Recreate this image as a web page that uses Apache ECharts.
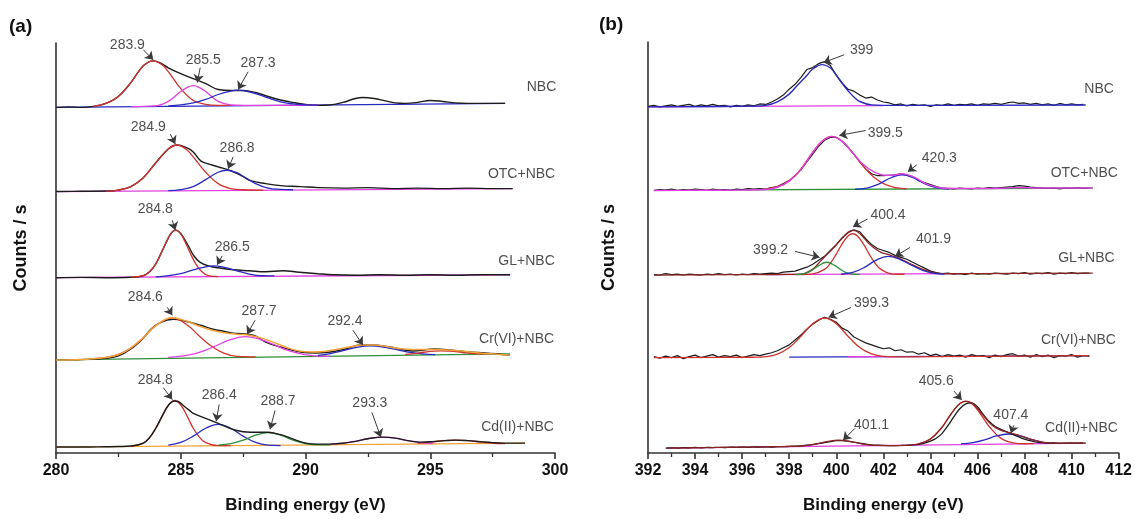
<!DOCTYPE html>
<html><head><meta charset="utf-8">
<script src="https://cdn.jsdelivr.net/npm/echarts@6/dist/echarts.min.js"></script>
<style>html,body{margin:0;padding:0;background:#fff}#c{width:1135px;height:519px}</style>
</head><body><div id="c"></div>
<script>
// ---------------- Panel (a): C 1s, binding energy (eV) vs intensity above each spectrum's own baseline
const A_STACK = [349, 264, 177, 94, 6]; // NBC, OTC+NBC, GL+NBC, Cr(VI)+NBC, Cd(II)+NBC
const a_NBC_exp = [[280,0],[280.5,0.5],[281,0],[281.5,1],[282,4],[282.5,11],[283,25],[283.5,42],[283.9,47],[284.25,44],[284.5,40],[285,34],[285.5,29],[286,24],[286.5,18],[287,17],[287.5,17],[288,15],[288.5,11],[289,7.5],[289.5,5],[290,3],[290.5,2],[291,2.5],[291.5,5],[292,9],[292.3,10],[292.75,9],[293.2,6.5],[293.6,4.5],[294,4],[294.5,5],[295,7],[295.5,6],[296,4.5],[296.5,4],[297,4],[297.5,4],[298,4]];
const a_NBC_c1 = [[281.5,1],[282,4],[282.5,11],[283,25],[283.5,42],[283.9,47],[284.25,43],[284.5,36],[285,19],[285.5,7],[286,3],[286.5,2],[287,2]];
const a_NBC_c2 = [[283,0.7],[284,1.5],[284.5,6],[285,16],[285.25,20],[285.5,22],[285.75,20],[286,16],[286.5,6],[287,2.5],[287.5,2],[290.5,2.3]];
const a_NBC_c3 = [[284.5,1.5],[285,2.5],[285.5,4.5],[286,8],[286.5,13],[287,16.5],[287.3,17.5],[287.5,17],[288,14],[288.5,9.5],[289,5.5],[289.5,3.5],[290,2.6],[290.5,2.3]];
const a_NBC_base = [[280,0],[298,4]];

const a_OTC_exp = [[280,0],[281,0.3],[282,0.5],[282.5,1.5],[283,5],[283.5,14],[284,29],[284.5,43],[284.85,47],[285.25,44],[285.5,40],[285.8,31],[286.1,28],[286.5,25],[287.1,20],[287.5,15],[287.8,11],[288.4,8],[289,6],[289.8,5],[290.5,4],[291.5,3.5],[292.5,4],[293.5,3],[294.5,3.5],[295.5,3],[296.5,3.5],[297.5,3],[298.3,3]];
const a_OTC_c1 = [[282,0.5],[282.5,1.5],[283,5],[283.5,14],[284,29],[284.5,43],[284.85,47],[285.25,42],[285.5,35],[286,19.5],[286.5,8],[287,3],[287.5,1.8],[288.3,1.5]];
const a_OTC_c2 = [[284.5,1],[285,2],[285.5,5],[286,12],[286.5,19.5],[286.85,21.5],[287.25,19],[287.5,15.5],[288,8],[288.5,3.5],[289,2.2],[289.5,1.8]];
const a_OTC_base = [[280,0],[298.3,3]];

const a_GL_exp = [[280,0],[281,0.3],[282,0],[283,0.5],[283.5,2],[283.75,6],[284,14],[284.25,27],[284.5,40],[284.65,46],[284.8,48],[284.95,46],[285.1,41],[285.35,30],[285.5,23],[285.75,16],[286.1,12],[286.5,10],[287.1,8],[287.75,7],[288.4,6],[289.1,7],[289.75,5.5],[290.5,4],[291.1,3],[292,2.5],[293,3],[294,2.5],[295,3],[296,2.5],[297,3],[298.2,3]];
const a_GL_c1 = [[283,0.5],[283.5,2],[283.75,6],[284,14],[284.25,26.5],[284.5,40],[284.65,46],[284.8,48],[284.95,46],[285.1,40],[285.35,26.5],[285.6,14],[285.85,6],[286.1,2],[286.5,1]];
const a_GL_c2 = [[284,0.8],[284.5,2],[285,4.2],[285.5,8],[286,11],[286.3,12],[286.75,10.5],[287.25,7],[287.75,3.7],[288.25,2],[288.75,1.8]];
const a_GL_base = [[280,0],[298.2,3]];

const a_Cr_exp = [[280,0],[280.5,0],[281,0.3],[281.5,0.8],[282,1.5],[282.5,4],[283,11],[283.5,22],[283.8,31],[284.2,38],[284.7,41],[285.2,39],[285.8,35],[286.3,31],[286.7,29],[287.1,27],[287.9,25],[288.4,18],[289,13],[289.8,8],[290.4,7],[291,8],[291.6,11],[292.2,15],[292.6,15],[293.4,13],[294.3,9],[295.2,11],[295.8,10],[296.5,8],[297.2,7],[298.2,5]];
const a_Cr_fit = [[280,0],[281,0.5],[281.5,1.2],[282,2.5],[282.5,5.5],[283,12],[283.5,22.5],[284,34.5],[284.65,42.5],[285.25,39],[285.75,34],[286.25,30],[286.75,27.5],[287.25,26],[287.75,25],[288.25,22],[288.75,17.5],[289.25,12.5],[289.75,9],[290.25,8],[290.75,8.5],[291.25,10.5],[291.75,13],[292.25,15],[292.75,15],[293.25,13.5],[293.75,11.5],[294.25,10.5],[294.75,10.5],[295.25,10.5],[295.75,10],[296.25,9],[296.75,7.5],[297.25,6.5],[297.75,5.5],[298.2,5]];
const a_Cr_c1 = [[281.5,1.2],[282,2.5],[282.5,5.5],[283,12],[283.5,22.5],[284,34.5],[284.65,42.5],[285.25,35.5],[285.75,24],[286.25,13.5],[286.75,6.5],[287.25,3.5],[288,3]];
const a_Cr_c2 = [[284.5,2.5],[285,3.8],[285.5,5.8],[286,9.8],[286.5,15.3],[287,20.6],[287.6,23.5],[288.2,20.6],[288.7,15.8],[289.2,10.3],[289.7,6.9],[290.2,4.6],[290.7,3.8],[291,3.6]];
const a_Cr_c3 = [[290.5,4.6],[291,6.4],[291.5,9.3],[292,12.4],[292.6,14.2],[293.2,12.7],[293.7,10.1],[294.2,7.5],[294.7,6],[295.2,5.3]];
const a_Cr_c4 = [[294,5.5],[294.5,6.9],[295,8.7],[295.4,9.1],[295.8,8.8],[296.3,7.5],[296.8,6.4],[297.3,6]];
const a_Cr_base = [[280,0],[298.2,6]];

const a_Cd_exp = [[280,0],[281,0],[282,0.3],[282.5,0.5],[283,1],[283.5,4],[283.75,9.5],[284,19],[284.25,31],[284.5,42],[284.75,46.5],[284.9,46],[285.1,42],[285.35,37],[285.5,34],[286,29],[286.5,24],[287.2,17],[287.8,15],[288.5,15],[289,12.5],[289.4,9],[290,4],[290.5,3],[291,3],[291.5,3.8],[292,5.8],[292.5,8.4],[293.1,10],[293.6,9],[294.1,6.5],[294.6,5],[295.1,5.5],[295.6,6.5],[296,7],[296.5,6.5],[297,5.5],[297.5,4.5],[298,4],[298.8,4]];
const a_Cd_c1 = [[283,0.8],[283.5,4],[283.75,9.5],[284,19],[284.25,31],[284.5,42],[284.75,47],[285,42.5],[285.25,31.5],[285.5,19],[285.75,10],[286,4.5],[286.5,1.5],[287,1.5]];
const a_Cd_c2 = [[284.5,2],[285,4.8],[285.5,11],[286,19],[286.5,23],[287,19],[287.5,11],[288,4.8],[288.5,2],[289,1.5]];
const a_Cd_c3 = [[286.5,2],[287,3.4],[287.5,6.9],[288,12],[288.5,14.6],[289,12.1],[289.5,7],[290,3.6],[290.5,2.3],[291,2.2]];
const a_Cd_c4 = [[291,3.1],[291.5,3.9],[292,5.8],[292.5,8.4],[293.1,10.1],[293.6,9],[294.1,6.4],[294.6,4.5],[295.1,3.6]];
const a_Cd_c5 = [[294.5,3.8],[295,4.9],[295.5,6.4],[296,7],[296.5,6.5],[297,5],[297.5,3.8],[298,3.5]];
const a_Cd_base = [[280,0],[298.8,4]];

// ---------------- Panel (b): N 1s
const B_STACK = [352, 267, 181, 97, 5];
const B_STEP = 0.25;
const b_NBC_start = 392.0;
const b_NBC_exp = [0.5,1.5,0,1,2,0.5,1.5,2.5,0.5,2, 1,2.5,1,1.5,0,1.5,0.5,2,1,3, 2.5,5,8,12,18,23,30,38,40,44, 46,42,32,24,18,16,12,9,10,7, 5,4,2,3,1,2.5,1.5,2,0.5,2, 1.5,3,1.5,2.5,2,3,1.5,3,2.5,3.5, 2.5,4,5,3.5,4,2.5,3.5,2,3,1.5, 3.5,2,3,2,2.5];
const b_NBC_c1 = [[392,0],[396.5,0.8],[397,1.5],[397.5,5],[398,13],[398.33,21.5],[398.75,32],[399,38.5],[399.4,43],[399.75,39.5],[400,32.5],[400.33,21.5],[400.5,16.5],[400.75,10],[401,5.5],[401.5,2],[402,1.5],[410.6,2]];
const b_NBC_base = [[392,0],[402,1.2]];

const b_OTC_start = 392.25;
const b_OTC_exp = [0,1,0.5,1.5,0,1,0.5,1.5,1,0, 1.5,0.5,1,0,1.5,1,2,1.5,2,1.5, 3,4,7,10,15,21,29,37,45,51, 54,54,50,44,37,29,22,17,15,15, 15.5,16,17,16,14,10,8,6,4,2.5, 2,1.5,2.5,2,1.5,2.5,2,3,2.5,3, 3.5,4,5,4.5,3.5,3,2.5,2,2.5,1.5, 2.5,2,3,2,2.5];
const b_OTC_c1 = [[397,1.5],[397.5,3.8],[398,10],[398.5,22],[399,38.9],[399.4,50.4],[399.8,55],[400.2,51],[400.6,41],[401.1,26],[401.6,13.4],[402.1,5.9],[402.6,2.6],[403,1.6]];
const b_OTC_c2 = [[400.8,1.3],[401.3,2.5],[401.8,6.5],[402.3,12.7],[402.8,16],[403.3,12.7],[403.8,6.5],[404.3,2.6],[404.8,1.5]];
const b_OTC_fit = [[392.25,0],[394,0.2],[396,0.4],[397,1],[397.5,3.3],[398,9.5],[398.5,21.5],[399,38.5],[399.4,50],[399.8,54.8],[400.2,51],[400.6,41],[401.1,27.5],[401.6,19],[402.1,15.5],[402.4,15.5],[402.8,17],[403.3,13.5],[403.8,7],[404.3,3.2],[404.8,2.2],[405.5,2],[407,2.3],[407.8,3],[408.5,2.5],[410.9,2.5]];
const b_OTC_base = [[392.25,0],[410.9,2.5]];

const b_GL_start = 392.25;
const b_GL_exp = [0.5,0,1.5,0.5,1,0,1,0.5,0,1, 0.5,1.5,0.5,1,0,1,0.5,1.5,1,1.5, 2,1.5,3,3.5,4,6,8,11,15,19, 25,31,38,43,46,44,37,31,27,25, 23,20,18,16,13,10,7,4,2.5,1.5, 2,1,1.5,0.5,2,1,1.5,1,2,1.5, 1,2,1.5,2.5,1,2,1.5,2.5,1,2, 1.5,2.5,1.5,2,2];
const b_GL_c1 = [[398.5,0.5],[399,1.2],[399.5,5.7],[399.75,12],[400,21.3],[400.25,31.7],[400.5,39.7],[400.7,42],[400.9,39.7],[401.15,31.7],[401.4,21.3],[401.65,12],[401.9,5.7],[402.4,1],[402.9,0.8]];
const b_GL_c2 = [[398.25,0.4],[398.5,0.8],[398.75,2.2],[399,5.3],[399.25,9.6],[399.6,13],[399.95,9.6],[400.2,5.3],[400.45,2.2],[400.7,0.9],[401,0.6]];
const b_GL_c3 = [[400.2,0.8],[400.7,2.6],[401.2,7.8],[401.7,15.2],[402.2,19],[402.7,16],[403.2,10],[403.7,4.5],[404.2,1.5],[404.6,1]];
const b_GL_fit = [[392.25,0],[397,0.5],[398,0.6],[398.5,0.8],[399,6],[399.25,12],[399.5,18.4],[399.75,24.3],[400,30.5],[400.25,37.3],[400.5,43.5],[400.7,45.5],[400.9,44],[401.15,38.4],[401.4,31.7],[401.65,26.8],[401.9,23.1],[402.2,21],[402.5,18.5],[402.7,16.8],[403.2,11],[403.7,5.5],[404.2,2],[404.6,1.3],[406,1.5],[410.9,2]];
const b_GL_base = [[397,0.5],[405,1.5]];

const b_Cr_start = 392.25;
const b_Cr_exp = [1,-0.5,1.5,0,2,-1,1,2.5,0,1.5, 3,0.5,2,1,2.5,0,1.5,3,2,3.5, 5,7,10,13,18,23,29,34,38,41, 39,36,30,27,21,18,15,13,11,9, 10,7,8,5.5,6,3.5,5,2,3.5,1, 3,1.5,2.5,0.5,3,1.5,2,0,2.5,1, 3,4,1.5,2.5,0.5,3,1,2.5,0,2, 1.5,3,0.5,2,1.5];
const b_Cr_c1 = [[392.25,0],[396.5,0.4],[397,1],[397.5,3.6],[398,10.2],[398.5,21.8],[399,34.5],[399.5,40.2],[400,34.5],[400.5,21.8],[401,10.3],[401.5,3.8],[402,1.2],[402.5,0.7],[404,1],[410.75,2]];
const b_Cr_base = [[398,0.6],[410.75,2]];
const b_Cr_base2 = [[400.5,0.9],[402.5,1.1]];

const b_Cd_start = 392.75;
const b_Cd_exp = [0,0.3,0,0.5,0.2,0.6,0.3,0.7,0.5,0.8, 0.6,1,0.7,1,0.8,1.2,1,1.3,1.1,1.5, 1.4,1.7,2,2.3,3,3.6,4.5,5.6,6.6,7.5, 7.6,7,6,5,4,3.3,2.9,2.7,2.6,2.6, 2.7,2.9,3.2,3.7,5,7,10,15,23,32, 40,45,46,42,34,27,22,19,16.5,14, 11.5,9,7.5,6,5.5,5,5.2,4.8,5,5.3, 4.9,5.2];
const b_Cd_c1 = [[403.5,4.4],[404,9.2],[404.5,21.4],[404.75,30.2],[405,38.7],[405.25,45.2],[405.5,47.6],[405.75,45.3],[406,39],[406.25,30.5],[406.5,21.9],[407,9.9],[407.5,5.4],[408,4.4],[408.4,4.5]];
const b_Cd_c2 = [[405.3,4.2],[405.8,5.5],[406.3,8.3],[406.8,12.3],[407.3,14.3],[407.8,12.4],[408.3,8.6],[408.8,5.9],[409.3,4.9]];
const b_Cd_fit = [[392.8,0],[396,0.9],[398.1,1.8],[398.6,2.3],[399.1,4],[399.6,6.5],[400.1,8],[400.6,6.6],[401.1,4.3],[401.6,2.7],[402.1,2.6],[403,2.8],[403.5,4.4],[404,9.2],[404.5,21.4],[404.75,30.2],[405,38.7],[405.25,45.2],[405.5,47.8],[405.75,46],[406,40.3],[406.25,33],[406.5,26],[406.75,21],[407,18],[407.3,16],[407.8,12.8],[408.3,8.8],[408.8,5.9],[409.3,5],[410,5],[410.6,5]];
const b_Cd_base = [[392.8,0],[410.6,5]];

// ---------------- Annotations: [text, energy, stacked value]
const A_LABELS = [['283.9',282.86,412],['285.5',285.9,397],['287.3',288.1,394],['NBC',299.46,369],
 ['284.9',283.7,329],['286.8',287.26,308],['OTC+NBC',298.66,282],
 ['284.8',283.98,246],['286.5',287.06,208],['GL+NBC',298.86,194],
 ['284.6',283.58,157],['287.7',288.14,143],['292.4',291.58,133],['Cr(VI)+NBC',298.46,115],
 ['284.8',283.98,74],['286.4',286.54,58],['288.7',288.9,52],['293.3',292.58,50],['Cd(II)+NBC',298.5,26]];
const A_ARROWS = [[283.5,407,283.9,397],[285.78,389,285.66,374],[287.7,385,287.3,367],
 [284.58,322,284.78,312],[287.1,299,286.9,287],
 [284.66,235,284.78,225],[286.66,199,286.46,190],
 [284.46,147,284.66,139],[287.98,134,287.66,120],[291.9,124,292.3,109],
 [284.3,66,284.66,54],[286.54,49,286.42,32],[288.78,43,288.58,24],[292.66,41,293.02,16]];
const B_LABELS = [['399',401.08,410],['NBC',411.17,370],
 ['399.5',402.08,325],['420.3',404.38,300],['OTC+NBC',410.54,285],
 ['400.4',402.2,242],['401.9',404.13,217],['399.2',397.21,206],['GL+NBC',410.63,198],
 ['399.3',401.5,152],['Cr(VI)+NBC',410.29,115],
 ['405.6',404.25,73],['407.4',407.42,39],['401.1',401.5,28],['Cd(II)+NBC',410.42,25]];
const B_ARROWS = [[400.33,405,399.46,397],
 [401.25,328,400.13,323],[403.42,293,403.04,286],
 [401.33,238,400.71,230],[403.13,209,402.5,200],[398.25,205,399.29,199],
 [400.63,148,399.67,138],
 [405,63,405.33,54],[407.54,28,407.42,20],[400.79,25,400.29,13]];

// ---------------- build
const C = {black:'#1c1c1c', red:'#d2322d', mag:'#e040e0', blue:'#2a2ac0', green:'#2f8f3a', orange:'#f2a33a', dred:'#8e2424'};
const FONT = '"Liberation Sans", Arial, sans-serif';
const series = [];
function addLine(panel, pts, off, color, width, smooth, z) {
  series.push({type:'line', xAxisIndex:panel, yAxisIndex:panel, data: pts.map(p => [p[0], p[1] + off]),
    symbol:'none', showSymbol:false, smooth: smooth, lineStyle:{color:color, width:width}, silent:true, z: z || 2});
}
function onGrid(start, vals) { return vals.map((v, i) => [+(start + i * B_STEP).toFixed(3), v]); }

// panel a
addLine(0, a_NBC_base, A_STACK[0], C.blue, 1.3, false);
addLine(0, a_NBC_exp, A_STACK[0], C.black, 1.4, 0.4);
addLine(0, a_NBC_c1, A_STACK[0], C.red, 1.3, 0.4, 3);
addLine(0, a_NBC_c2, A_STACK[0], C.mag, 1.3, 0.4, 3);
addLine(0, a_NBC_c3, A_STACK[0], C.blue, 1.3, 0.4, 3);

addLine(0, a_OTC_base, A_STACK[1], C.mag, 1.3, false);
addLine(0, a_OTC_exp, A_STACK[1], C.black, 1.4, 0.4);
addLine(0, a_OTC_c1, A_STACK[1], C.red, 1.3, 0.4, 3);
addLine(0, a_OTC_c2, A_STACK[1], C.blue, 1.3, 0.4, 3);

addLine(0, a_GL_base, A_STACK[2], C.mag, 1.3, false);
addLine(0, a_GL_exp, A_STACK[2], C.black, 1.4, 0.4);
addLine(0, a_GL_c1, A_STACK[2], C.red, 1.3, 0.4, 3);
addLine(0, a_GL_c2, A_STACK[2], C.blue, 1.3, 0.4, 3);

addLine(0, a_Cr_base, A_STACK[3], C.green, 1.3, false);
addLine(0, a_Cr_exp, A_STACK[3], C.black, 1.4, 0.4);
addLine(0, a_Cr_c1, A_STACK[3], C.red, 1.3, 0.4, 3);
addLine(0, a_Cr_c2, A_STACK[3], C.mag, 1.3, 0.4, 3);
addLine(0, a_Cr_c3, A_STACK[3], C.blue, 1.3, 0.4, 3);
addLine(0, a_Cr_c4, A_STACK[3], C.red, 1.3, 0.4, 3);
addLine(0, a_Cr_fit, A_STACK[3], C.orange, 1.5, 0.4, 4);

addLine(0, a_Cd_base, A_STACK[4], C.orange, 1.3, false);
addLine(0, a_Cd_c1, A_STACK[4], C.red, 1.3, 0.4, 3);
addLine(0, a_Cd_c2, A_STACK[4], C.blue, 1.3, 0.4, 3);
addLine(0, a_Cd_c3, A_STACK[4], C.green, 1.3, 0.4, 3);
addLine(0, a_Cd_c4, A_STACK[4], C.mag, 1.3, 0.4, 3);
addLine(0, a_Cd_c5, A_STACK[4], C.red, 1.3, 0.4, 3);
addLine(0, a_Cd_exp, A_STACK[4], C.black, 1.4, 0.4, 4);

// panel b
addLine(1, b_NBC_base, B_STACK[0], C.mag, 1.3, false);
addLine(1, onGrid(b_NBC_start, b_NBC_exp), B_STACK[0], C.black, 1.2, false);
addLine(1, b_NBC_c1, B_STACK[0], C.blue, 1.4, 0.4, 3);

addLine(1, b_OTC_base, B_STACK[1], C.green, 1.3, false);
addLine(1, onGrid(b_OTC_start, b_OTC_exp), B_STACK[1], C.black, 1.2, false);
addLine(1, b_OTC_c1, B_STACK[1], C.red, 1.3, 0.4, 3);
addLine(1, b_OTC_c2, B_STACK[1], C.blue, 1.3, 0.4, 3);
addLine(1, b_OTC_fit, B_STACK[1], C.mag, 1.4, 0.4, 4);

addLine(1, b_GL_base, B_STACK[2], C.mag, 1.3, false);
addLine(1, onGrid(b_GL_start, b_GL_exp), B_STACK[2], C.black, 1.2, false);
addLine(1, b_GL_fit, B_STACK[2], C.dred, 1.3, 0.4, 3);
addLine(1, b_GL_c1, B_STACK[2], C.red, 1.3, 0.4, 3);
addLine(1, b_GL_c2, B_STACK[2], C.green, 1.3, 0.4, 3);
addLine(1, b_GL_c3, B_STACK[2], C.blue, 1.3, 0.4, 3);

addLine(1, b_Cr_base, B_STACK[3], C.blue, 1.3, false);
addLine(1, b_Cr_base2, B_STACK[3], C.mag, 1.3, false);
addLine(1, onGrid(b_Cr_start, b_Cr_exp), B_STACK[3], C.black, 1.2, false);
addLine(1, b_Cr_c1, B_STACK[3], C.red, 1.3, 0.4, 3);

addLine(1, b_Cd_base, B_STACK[4], C.mag, 1.3, false);
addLine(1, b_Cd_c1, B_STACK[4], C.red, 1.3, 0.4, 3);
addLine(1, b_Cd_c2, B_STACK[4], C.blue, 1.3, 0.4, 3);
addLine(1, onGrid(b_Cd_start, b_Cd_exp), B_STACK[4], C.black, 1.3, 0.3, 3);
addLine(1, b_Cd_fit, B_STACK[4], C.dred, 1.2, 0.4, 4);

function annot(panel, labels, arrows) {
  series.push({type:'scatter', xAxisIndex:panel, yAxisIndex:panel, symbolSize:1, silent:true, z:6,
    itemStyle:{color:'rgba(0,0,0,0)'},
    data: labels.map(l => ({name:l[0], value:[l[1], l[2]]})),
    label:{show:true, position:'inside', formatter:'{b}', color:'#222', fontSize:14, fontFamily:FONT},
    markLine:{silent:true, symbol:['none','arrow'], symbolSize:8, animation:false,
      label:{show:false}, lineStyle:{color:'#3a3a3a', width:1, type:'solid'},
      emphasis:{disabled:true},
      data: arrows.map(a => [{coord:[a[0], a[1]]}, {coord:[a[2], a[3]]}])}
  });
}
annot(0, A_LABELS, A_ARROWS);
annot(1, B_LABELS, B_ARROWS);

const axisLineStyle = {color:'#333', width:1.6};
function xAxis(grid, min, max, interval) {
  return {type:'value', gridIndex:grid, min:min, max:max, interval:interval,
    name:'Binding energy (eV)', nameLocation:'middle', nameGap:44,
    nameTextStyle:{fontSize:17, fontWeight:'bold', color:'#111', fontFamily:FONT},
    axisLine:{show:true, onZero:false, lineStyle:axisLineStyle},
    axisTick:{show:true, inside:false, length:6, lineStyle:axisLineStyle},
    minorTick:{show:true, splitNumber:2, length:4, lineStyle:{color:'#333', width:1.3}},
    axisLabel:{fontSize:16, fontWeight:'bold', color:'#111', margin:10, fontFamily:FONT},
    splitLine:{show:false}};
}
function yAxis(grid, max, gap) {
  return {type:'value', gridIndex:grid, min:0, max:max,
    name:'Counts / s', nameLocation:'middle', nameRotate:90, nameGap:gap,
    nameTextStyle:{fontSize:18, fontWeight:'bold', color:'#111', fontFamily:FONT},
    axisLine:{show:true, onZero:false, lineStyle:axisLineStyle},
    axisTick:{show:false}, axisLabel:{show:false}, splitLine:{show:false}};
}

const option = {
  animation:false,
  backgroundColor:'#fff',
  grid:[{left:56, right:580, top:43, bottom:62}, {left:648, right:8, top:42, bottom:59}],
  xAxis:[xAxis(0, 280, 300, 5), xAxis(1, 392, 412, 2)],
  yAxis:[yAxis(0, 414, 26), yAxis(1, 418, 30)],
  graphic:[
    {type:'text', left:9, top:17, style:{text:'(a)', font:'bold 19px ' + FONT, fill:'#111'}},
    {type:'text', left:599, top:15, style:{text:'(b)', font:'bold 19px ' + FONT, fill:'#111'}}
  ],
  series: series
};
const chart = echarts.init(document.getElementById('c'));
chart.setOption(option);
</script></body></html>
